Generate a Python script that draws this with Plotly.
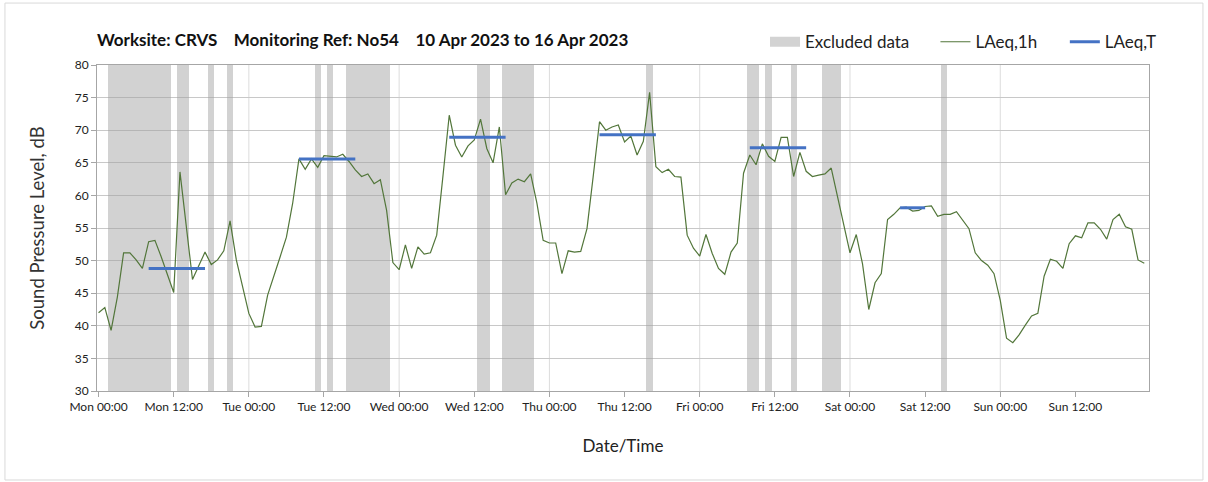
import plotly.graph_objects as go
import pandas as pd

# ---------------- data ----------------
start_time = "2023-04-10 00:00"

laeq_1h = [
    42.0, 42.8, 39.3, 44.4, 51.2, 51.2, 50.1, 48.8, 52.9, 53.1, 50.6, 48.0,
    45.1, 63.6, 55.4, 47.1, 49.2, 51.3, 49.4, 50.1, 51.5, 56.1, 50.1, 45.8,
    41.9, 39.8, 39.9, 44.7, 47.5, 50.6, 53.6, 58.8, 65.6, 64.0, 65.6, 64.3,
    66.1, 66.0, 65.9, 66.3, 65.2, 63.9, 62.9, 63.3, 61.8, 62.4, 57.7, 49.7,
    48.6, 52.4, 48.8, 52.1, 51.0, 51.2, 53.9, 63.0, 72.3, 67.7, 65.9, 67.6,
    68.5, 71.7, 67.2, 65.0, 70.5, 60.1, 61.9, 62.5, 62.1, 63.3, 58.8, 53.1,
    52.7, 52.7, 48.0, 51.5, 51.3, 51.4, 54.9, 63.0, 71.3, 70.0, 70.5, 70.8,
    68.2, 69.1, 66.2, 68.3, 75.8, 64.4, 63.5, 64.0, 62.9, 62.8, 53.9, 51.9,
    50.7, 54.0, 51.1, 48.8, 47.9, 51.3, 52.7, 63.4, 66.2, 64.7, 67.9, 66.0,
    65.2, 68.9, 68.9, 62.9, 66.6, 63.7, 62.9, 63.1, 63.3, 64.2, 59.8, 55.4,
    51.2, 54.0, 49.5, 42.5, 46.6, 48.0, 56.3, 57.1, 58.1, 58.2, 57.6, 57.7,
    58.3, 58.4, 56.8, 57.1, 57.1, 57.5, 56.1, 54.9, 51.2, 50.0, 49.3, 48.0,
    43.9, 38.1, 37.4, 38.6, 40.1, 41.5, 41.9, 47.6, 50.2, 49.9, 48.8, 52.6,
    53.8, 53.5, 55.8, 55.8, 54.8, 53.3, 56.3, 57.1, 55.2, 54.8, 50.1, 49.6,
]

excluded_hours = [2, 3, 4, 5, 6, 7, 8, 9, 10, 11, 13, 14, 18, 21,
                  35, 37, 40, 41, 42, 43, 44, 45, 46, 61, 62,
                  65, 66, 67, 68, 69, 88, 104, 105, 107, 111,
                  116, 117, 118, 135]

laeq_t_start_hour = [8, 32, 56, 80, 104, 128]
laeq_t_end_hour = [17, 41, 65, 89, 113, 132]
laeq_t_values = [48.8, 65.6, 68.9, 69.3, 67.3, 58.1]

y_min, y_max = 30, 80

# ---------------- build ----------------
t0 = pd.Timestamp(start_time)
hours = list(range(len(laeq_1h)))
times = [t0 + pd.Timedelta(hours=h) for h in hours]

font_family = "Lato, 'Open Sans', sans-serif"
band_colour = "rgba(160,160,160,0.47)"

fig = go.Figure()

fig.add_trace(go.Bar(
    name="Excluded data",
    x=[t0 + pd.Timedelta(hours=h) for h in excluded_hours],
    y=[y_max - y_min] * len(excluded_hours),
    base=y_min,
    width=3600 * 1000,
    marker=dict(color=band_colour, line=dict(width=0)),
    hoverinfo="skip",
    showlegend=False,
    legendgroup="excl",
))
# legend key for the excluded-data bands (wide grey block like the original)
fig.add_trace(go.Scatter(
    name="Excluded data", x=[None], y=[None], mode="lines",
    line=dict(color="#d3d3d3", width=10), legend="legend", legendgroup="excl",
))

fig.add_trace(go.Scatter(
    name="LAeq,1h",
    x=times, y=laeq_1h,
    mode="lines",
    line=dict(color="#52763a", width=1.2),
    legend="legend2",
))

seg_x, seg_y = [], []
for s, e, v in zip(laeq_t_start_hour, laeq_t_end_hour, laeq_t_values):
    seg_x += [t0 + pd.Timedelta(hours=s), t0 + pd.Timedelta(hours=e), None]
    seg_y += [v, v, None]
fig.add_trace(go.Scatter(
    name="LAeq,T",
    x=seg_x, y=seg_y,
    mode="lines",
    line=dict(color="#4472c4", width=3),
    connectgaps=False,
    legend="legend3",
))

# daily vertical gridlines
for d in range(1, 7):
    dt = t0 + pd.Timedelta(days=d)
    fig.add_shape(type="line", xref="x", yref="paper", x0=dt, x1=dt, y0=0, y1=1,
                  layer="below", line=dict(color="#dcdcdc", width=1))

# outer frame
fig.add_shape(type="rect", xref="paper", yref="paper",
              x0=-0.0875, x1=1.0513, y0=-0.273, y1=1.19,
              line=dict(color="#d9d9d9", width=1), layer="below")

title_txt = ("Worksite: CRVS" + "\u00a0" * 4 + "Monitoring Ref: No54" + "\u00a0" * 4
             + "10 Apr 2023 to 16 Apr 2023")

legend_common = dict(orientation="h", xanchor="left", y=1.07, yanchor="middle",
                     font=dict(size=17, color="#222222"), bgcolor="rgba(0,0,0,0)")

fig.update_layout(
    width=1208, height=482,
    margin=dict(l=97, r=59, t=65, b=91),
    paper_bgcolor="white", plot_bgcolor="white",
    font=dict(family=font_family, size=13, color="#222222"),
    title=dict(text="<b>" + title_txt + "</b>", x=0, xref="paper", xanchor="left",
               y=1 - 40 / 482, yref="container", yanchor="middle",
               font=dict(size=17, color="#111111")),
    bargap=0,
    showlegend=True,
    legend=dict(x=0.635, **legend_common),
    legend2=dict(x=0.797, **legend_common),
    legend3=dict(x=0.920, **legend_common),
    hovermode=False,
)

fig.update_xaxes(
    range=[t0 - pd.Timedelta(minutes=15), t0 + pd.Timedelta(hours=167, minutes=45)],
    type="date",
    tick0=t0, dtick=12 * 3600 * 1000, tickformat="%a %H:%M",
    ticks="outside", ticklen=5, tickcolor="#a6a6a6",
    showgrid=False, showline=True, linecolor="#a6a6a6", linewidth=1, mirror=True,
    tickfont=dict(size=12, color="#222222"),
    title=dict(text="Date/Time", font=dict(size=17, color="#222222"), standoff=26),
    zeroline=False,
)
fig.update_yaxes(
    range=[y_min, y_max], dtick=5,
    ticks="outside", ticklen=5, tickcolor="#a6a6a6",
    showgrid=True, gridcolor="#c8c8c8", gridwidth=1,
    showline=True, linecolor="#a6a6a6", linewidth=1, mirror=True,
    tickfont=dict(size=12, color="#222222"),
    title=dict(text="Sound Pressure Level, dB", font=dict(size=18.5, color="#333333"), standoff=25),
    zeroline=False,
)

fig.write_html("out.html", config={"displayModeBar": False},
               post_script="document.body.style.margin='0px';")
